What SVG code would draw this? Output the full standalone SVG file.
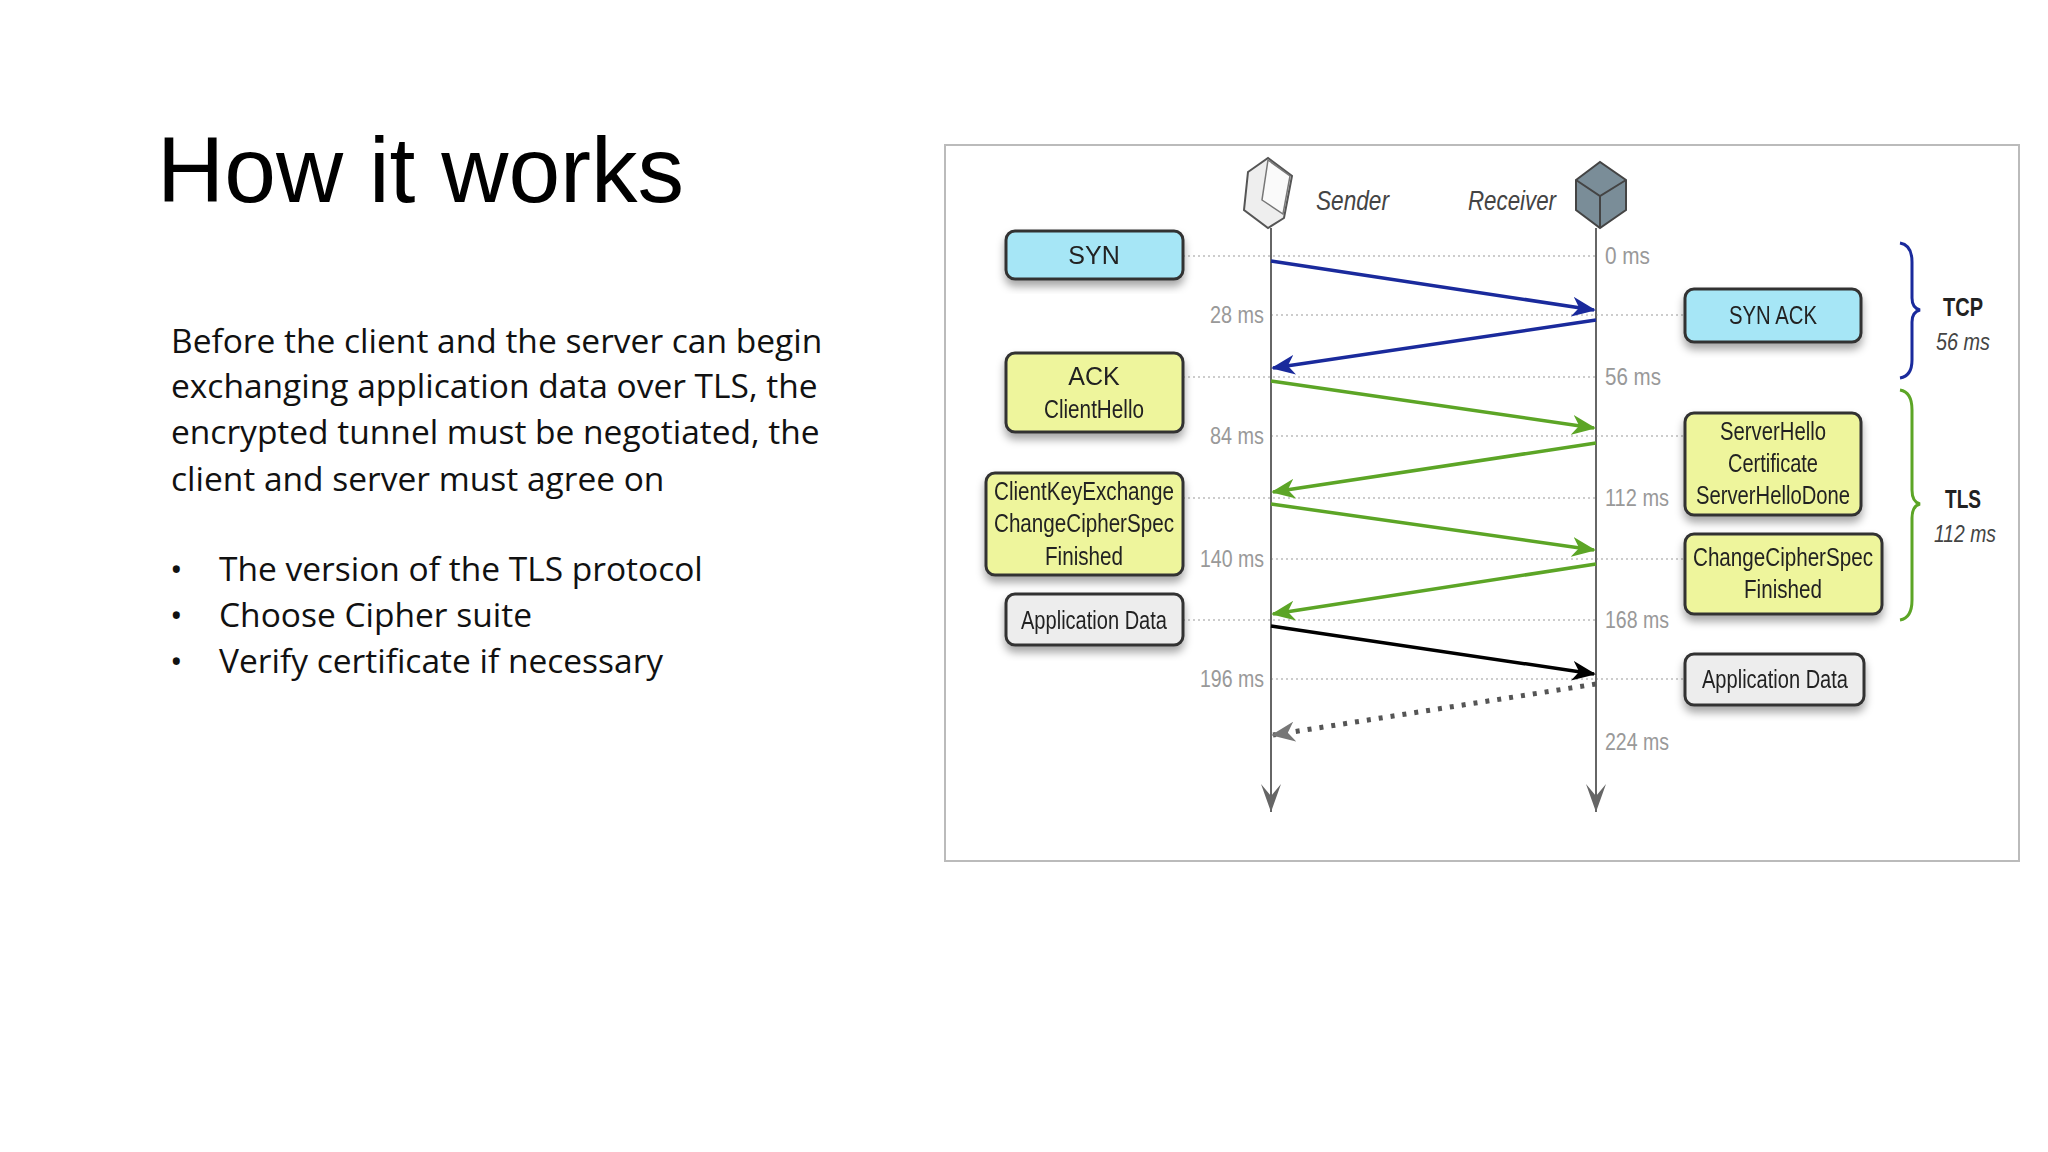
<svg xmlns="http://www.w3.org/2000/svg" width="2048" height="1152" viewBox="0 0 2048 1152">
<style>
.t{font-family:"Liberation Sans",Arial,sans-serif}
.body{font-family:"Open Sans","Noto Sans",sans-serif;font-size:33.5px;fill:#111}
.bx{font-family:"Liberation Sans",Arial,sans-serif;font-size:25px;fill:#222;text-anchor:middle}
.ms{font-family:"Liberation Sans",Arial,sans-serif;font-size:24px;fill:#999}
.grid{stroke:#ccc;stroke-width:2;stroke-dasharray:2 3}
.blue{fill:#a6e6f6;stroke:#333;stroke-width:3}
.yel{fill:#eef59c;stroke:#333;stroke-width:3}
.gry{fill:#ededed;stroke:#333;stroke-width:3}
</style>
<defs>
<filter id="sh" x="-10%" y="-10%" width="120%" height="140%"><feDropShadow dx="0" dy="6" stdDeviation="4" flood-color="#000" flood-opacity="0.35"/></filter>
<marker id="ab" markerWidth="24" markerHeight="20" refX="22" refY="10" orient="auto" markerUnits="userSpaceOnUse" viewBox="0 0 24 20"><path d="M0,0 L24,10 L0,20 L7,10 Z" fill="#1a2a9c"/></marker>
<marker id="ag" markerWidth="24" markerHeight="20" refX="22" refY="10" orient="auto" markerUnits="userSpaceOnUse" viewBox="0 0 24 20"><path d="M0,0 L24,10 L0,20 L7,10 Z" fill="#5ca526"/></marker>
<marker id="ak" markerWidth="24" markerHeight="20" refX="22" refY="10" orient="auto" markerUnits="userSpaceOnUse" viewBox="0 0 24 20"><path d="M0,0 L24,10 L0,20 L7,10 Z" fill="#000"/></marker>
<marker id="ad" markerWidth="24" markerHeight="20" refX="22" refY="10" orient="auto" markerUnits="userSpaceOnUse" viewBox="0 0 24 20"><path d="M0,0 L24,10 L0,20 L7,10 Z" fill="#777"/></marker>
<marker id="al" markerWidth="20" markerHeight="30" refX="10" refY="28" orient="0" markerUnits="userSpaceOnUse" viewBox="0 0 20 30"><path d="M0,0 L10,28 L20,0 L10,12 Z" fill="#666"/></marker>
</defs>
<rect width="2048" height="1152" fill="#fff"/>
<text class="t" x="157" y="202" font-size="93" fill="#000">How it works</text>
<g class="body">
<text x="171" y="353">Before the client and the server can begin</text>
<text x="171" y="398">exchanging application data over TLS, the</text>
<text x="171" y="444">encrypted tunnel must be negotiated, the</text>
<text x="171" y="491">client and server must agree on</text>
<text x="170" y="581">•</text><text x="219" y="581">The version of the TLS protocol</text>
<text x="170" y="627">•</text><text x="219" y="627">Choose Cipher suite</text>
<text x="170" y="673">•</text><text x="219" y="673">Verify certificate if necessary</text>
</g>
<rect x="945" y="145" width="1074" height="716" fill="#fff" stroke="#bbb" stroke-width="2"/>
<g id="grid">
<line class="grid" x1="1183" y1="256" x2="1596" y2="256"/>
<line class="grid" x1="1271" y1="315" x2="1685" y2="315"/>
<line class="grid" x1="1183" y1="377" x2="1596" y2="377"/>
<line class="grid" x1="1271" y1="436" x2="1685" y2="436"/>
<line class="grid" x1="1183" y1="498" x2="1596" y2="498"/>
<line class="grid" x1="1271" y1="559" x2="1685" y2="559"/>
<line class="grid" x1="1183" y1="620" x2="1596" y2="620"/>
<line class="grid" x1="1271" y1="679" x2="1685" y2="679"/>
</g>
<g id="sender">
<path d="M1248,172 L1268,158 L1292,176 L1284,218 L1268,228 L1244,210 Z" fill="#eee" stroke="#555" stroke-width="2"/>
<path d="M1268,160 L1290,176 L1283,214 L1262,200 Z" fill="#fafafa" stroke="#777" stroke-width="1.5"/>
<text class="t" x="1316" y="210" font-size="28" font-style="italic" fill="#444" textLength="73" lengthAdjust="spacingAndGlyphs">Sender</text>
<line x1="1271" y1="228" x2="1271" y2="812" stroke="#666" stroke-width="2" marker-end="url(#al)"/>
</g>
<g id="receiver">
<path d="M1576,180 L1600,162 L1626,180 L1626,210 L1600,228 L1576,210 Z" fill="#7a8d98" stroke="#444" stroke-width="2"/>
<path d="M1576,180 L1600,196 L1626,180 M1600,196 L1600,228" fill="none" stroke="#444" stroke-width="2"/>
<text class="t" x="1468" y="210" font-size="28" font-style="italic" fill="#444" textLength="88" lengthAdjust="spacingAndGlyphs">Receiver</text>
<line x1="1596" y1="228" x2="1596" y2="812" stroke="#666" stroke-width="2" marker-end="url(#al)"/>
</g>
<g id="times">
<text class="ms" x="1605" y="264" textLength="45" lengthAdjust="spacingAndGlyphs">0 ms</text>
<text class="ms" x="1210" y="323" textLength="54" lengthAdjust="spacingAndGlyphs">28 ms</text>
<text class="ms" x="1605" y="385" textLength="56" lengthAdjust="spacingAndGlyphs">56 ms</text>
<text class="ms" x="1210" y="444" textLength="54" lengthAdjust="spacingAndGlyphs">84 ms</text>
<text class="ms" x="1605" y="506" textLength="64" lengthAdjust="spacingAndGlyphs">112 ms</text>
<text class="ms" x="1200" y="567" textLength="64" lengthAdjust="spacingAndGlyphs">140 ms</text>
<text class="ms" x="1605" y="628" textLength="64" lengthAdjust="spacingAndGlyphs">168 ms</text>
<text class="ms" x="1200" y="687" textLength="64" lengthAdjust="spacingAndGlyphs">196 ms</text>
<text class="ms" x="1605" y="750" textLength="64" lengthAdjust="spacingAndGlyphs">224 ms</text>
</g>
<g id="connectors" fill="none" stroke-width="3.5">
<line x1="1271" y1="261" x2="1594" y2="310" stroke="#1a2a9c" marker-end="url(#ab)"/>
<line x1="1596" y1="320" x2="1273" y2="368" stroke="#1a2a9c" marker-end="url(#ab)"/>
<line x1="1271" y1="381" x2="1594" y2="428" stroke="#5ca526" marker-end="url(#ag)"/>
<line x1="1596" y1="443" x2="1273" y2="492" stroke="#5ca526" marker-end="url(#ag)"/>
<line x1="1271" y1="504" x2="1594" y2="550" stroke="#5ca526" marker-end="url(#ag)"/>
<line x1="1596" y1="564" x2="1273" y2="614" stroke="#5ca526" marker-end="url(#ag)"/>
<line x1="1271" y1="626" x2="1594" y2="674" stroke="#000" marker-end="url(#ak)"/>
<line x1="1596" y1="684" x2="1273" y2="735" stroke="#555" stroke-width="5" stroke-dasharray="4 8" marker-end="url(#ad)"/>
</g>
<g id="syn" filter="url(#sh)"><rect class="blue" x="1006" y="231" width="177" height="48" rx="9"/><text class="bx" x="1094" y="264">SYN</text></g>
<g id="ack" filter="url(#sh)"><rect class="yel" x="1006" y="353" width="177" height="79" rx="9"/><text class="bx" x="1094" y="385">ACK</text><text class="bx" x="1094" y="418" textLength="100" lengthAdjust="spacingAndGlyphs">ClientHello</text></g>
<g id="cke" filter="url(#sh)"><rect class="yel" x="986" y="473" width="197" height="102" rx="9"/><text class="bx" x="1084" y="500" textLength="180" lengthAdjust="spacingAndGlyphs">ClientKeyExchange</text><text class="bx" x="1084" y="532" textLength="180" lengthAdjust="spacingAndGlyphs">ChangeCipherSpec</text><text class="bx" x="1084" y="565" textLength="78" lengthAdjust="spacingAndGlyphs">Finished</text></g>
<g id="appl" filter="url(#sh)"><rect class="gry" x="1006" y="594" width="177" height="51" rx="9"/><text class="bx" x="1094" y="629" textLength="146" lengthAdjust="spacingAndGlyphs">Application Data</text></g>
<g id="synack" filter="url(#sh)"><rect class="blue" x="1685" y="289" width="176" height="53" rx="9"/><text class="bx" x="1773" y="324" textLength="88" lengthAdjust="spacingAndGlyphs">SYN ACK</text></g>
<g id="sh1" filter="url(#sh)"><rect class="yel" x="1685" y="413" width="176" height="102" rx="9"/><text class="bx" x="1773" y="440" textLength="106" lengthAdjust="spacingAndGlyphs">ServerHello</text><text class="bx" x="1773" y="472" textLength="90" lengthAdjust="spacingAndGlyphs">Certificate</text><text class="bx" x="1773" y="504" textLength="154" lengthAdjust="spacingAndGlyphs">ServerHelloDone</text></g>
<g id="ccs" filter="url(#sh)"><rect class="yel" x="1685" y="534" width="197" height="80" rx="9"/><text class="bx" x="1783" y="566" textLength="180" lengthAdjust="spacingAndGlyphs">ChangeCipherSpec</text><text class="bx" x="1783" y="598" textLength="78" lengthAdjust="spacingAndGlyphs">Finished</text></g>
<g id="appr" filter="url(#sh)"><rect class="gry" x="1685" y="654" width="179" height="51" rx="9"/><text class="bx" x="1775" y="688" textLength="146" lengthAdjust="spacingAndGlyphs">Application Data</text></g>
<g id="tcp">
<path d="M1900,243 Q1912,245 1912,262 L1912,298 Q1912,308 1920,310 Q1912,312 1912,322 L1912,360 Q1912,376 1900,378" fill="none" stroke="#1a2a9c" stroke-width="3"/>
<text class="t" x="1963" y="316" font-size="25" font-weight="bold" text-anchor="middle" fill="#222" textLength="40" lengthAdjust="spacingAndGlyphs">TCP</text>
<text class="t" x="1963" y="350" font-size="23" font-style="italic" text-anchor="middle" fill="#444" textLength="54" lengthAdjust="spacingAndGlyphs">56 ms</text>
</g>
<g id="tls">
<path d="M1900,390 Q1912,392 1912,410 L1912,490 Q1912,502 1920,504 Q1912,506 1912,518 L1912,600 Q1912,618 1900,620" fill="none" stroke="#5ca526" stroke-width="3"/>
<text class="t" x="1963" y="508" font-size="25" font-weight="bold" text-anchor="middle" fill="#222" textLength="36" lengthAdjust="spacingAndGlyphs">TLS</text>
<text class="t" x="1965" y="542" font-size="23" font-style="italic" text-anchor="middle" fill="#444" textLength="62" lengthAdjust="spacingAndGlyphs">112 ms</text>
</g>
</svg>
